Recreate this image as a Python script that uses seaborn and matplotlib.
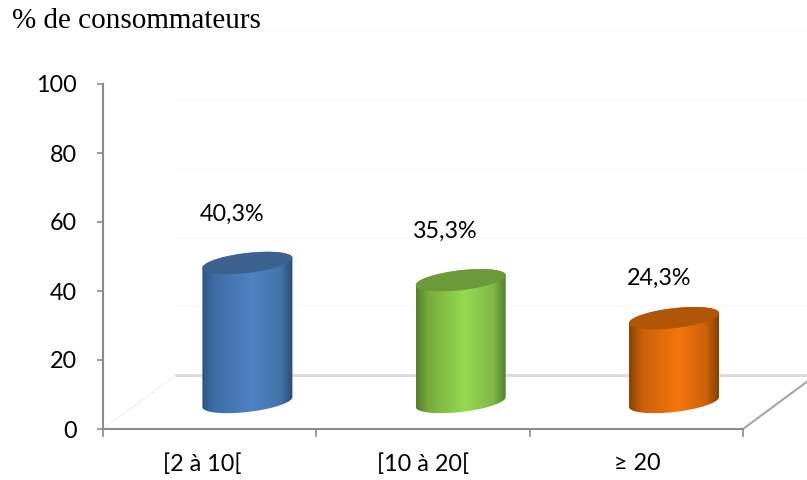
import numpy as np
import pandas as pd
import matplotlib
matplotlib.use("Agg")
import matplotlib.pyplot as plt
from matplotlib.colors import LinearSegmentedColormap
from matplotlib.patches import PathPatch, Polygon
from matplotlib.path import Path
import seaborn as sns

# Chart values
categories = ["[2 à 10[", "[10 à 20[", "≥ 20"]
shares = [40.3, 35.3, 24.3]
value_labels = ["40,3%", "35,3%", "24,3%"]
yticks = [0, 20, 40, 60, 80, 100]

# Cylinder shading: left edge, mid tones, highlight, right edge, and the top cap
ramps = [
    ["#2c5587", "#3f6ea6", "#4f82c2", "#4474ad", "#2b4a74"],
    ["#557f2b", "#78ad3d", "#95da50", "#7fb944", "#56802c"],
    ["#8a4000", "#c9600a", "#f6750c", "#cb620a", "#854000"],
]
caps = ["#3c638f", "#6d9a38", "#b15506"]

W, H = 807, 480
LEFT, RIGHT, BOTTOM, TOP = 103, 743, 429, 84

sns.set_theme(style="ticks")
plt.rcParams["font.family"] = ["Lato", "DejaVu Sans"]

fig = plt.figure(figsize=(W / 100, H / 100), dpi=100, facecolor="white")
ax = fig.add_axes([LEFT / W, 1 - BOTTOM / H, (RIGHT - LEFT) / W, (BOTTOM - TOP) / H])

frame = pd.DataFrame({"classe": categories, "part": shares})

# 3D perspective shift of the floor and of the bars standing on it
px_x = (RIGHT - LEFT) / 3
px_y = (BOTTOM - TOP) / 100
floor_dx, floor_dy = 73 / px_x, 54 / px_y
bar_dx, bar_lift = 37.7 / px_x, 27 / px_y

sns.barplot(data=frame, x="classe", y="part", width=90 / px_x, bottom=bar_lift,
            color="white", linewidth=0, ax=ax, zorder=3)
ax.set_xlim(-0.5, 2.5)
ax.set_ylim(0, 100)

# Floor and back wall
axis_grey = "#8c8c8c"
x0, x1 = -0.5, 2.5
for v in yticks[1:]:
    ax.plot([x0 + floor_dx, x1 + floor_dx], [v + floor_dy] * 2, color="#fbfbfb", lw=1, clip_on=False, zorder=1)
ax.plot([x0, x0 + floor_dx], [0, floor_dy], color="#e4e4e4", lw=1, ls=(0, (1, 1)), clip_on=False, zorder=1)
ax.plot([x0 + floor_dx, x1 + floor_dx], [floor_dy] * 2, color="#dcdcdc", lw=2.2, clip_on=False, zorder=1)
ax.plot([x1, x1 + floor_dx], [0, floor_dy], color="#a6a6a6", lw=1.5, clip_on=False, zorder=1)

# Turn each flat bar into a shaded cylinder
t_up = np.linspace(0, np.pi, 60)
t_low = np.linspace(np.pi, 2 * np.pi, 60)


def rim(cx, cy, half_w, t):
    """Sheared ellipse: the left end sits lower than the right end."""
    return np.column_stack((cx + half_w * np.cos(t),
                            cy + (5 * np.cos(t) + 10 * np.sin(t)) / px_y))


for patch, ramp, cap, label in zip(ax.patches, ramps, caps, value_labels):
    patch.set_x(patch.get_x() + bar_dx)
    patch.set_visible(False)
    xl, w = patch.get_x(), patch.get_width()
    cx, half_w = xl + w / 2, w / 2
    base, top = patch.get_y(), patch.get_y() + patch.get_height()

    outline = np.vstack((rim(cx, top, half_w, t_up), rim(cx, base, half_w, t_low)))
    clip = PathPatch(Path(outline, closed=False), transform=ax.transData, fc="none", ec="none")
    ax.add_patch(clip)

    cmap = LinearSegmentedColormap.from_list("shade", list(zip([0, 0.14, 0.55, 0.86, 1], ramp)))
    img = ax.imshow(np.linspace(0, 1, 256)[None, :], cmap=cmap, aspect="auto", zorder=3,
                    extent=(xl, xl + w, base - 5, top + 5), interpolation="bilinear")
    img.set_clip_path(clip)

    ax.add_patch(Polygon(np.vstack((rim(cx, top, half_w, t_up), rim(cx, top, half_w, t_low))),
                         closed=True, fc=cap, ec="none", zorder=4))

ax.set_xlim(-0.5, 2.5)
ax.set_ylim(0, 100)

# Value labels sit above the caps
label_lift = [49, 49, 40]
for patch, label, lift in zip(ax.patches, value_labels, label_lift):
    ax.annotate(label, (patch.get_x() + patch.get_width() / 2, patch.get_y() + patch.get_height()),
                xytext=(-15 * 0.72, lift * 0.72), textcoords="offset points",
                ha="center", va="center", fontsize=16.8, color="black", zorder=5)

# Axes
for side in ("top", "right"):
    ax.spines[side].set_visible(False)
for side in ("left", "bottom"):
    ax.spines[side].set_color(axis_grey)
    ax.spines[side].set_linewidth(1.5)
ax.set_xlabel("")
ax.set_ylabel("")
ax.set_yticks(yticks)
ax.set_xticks([-0.5, 0.5, 1.5, 2.5], labels=[""] * 4)
ax.tick_params(axis="y", length=4.5, width=1.2, color=axis_grey, labelsize=16.8, labelcolor="black", pad=14)
ax.tick_params(axis="x", length=6, width=1.2, color=axis_grey)
for i, (name, shift) in enumerate(zip(categories, (-7, 0, 1))):
    ax.annotate(name, (i, 0), xytext=(shift * 0.72, -35 * 0.72), textcoords="offset points",
                ha="center", va="center", fontsize=16.8, color="black", annotation_clip=False)

fig.text(12 / W, 1 - 21 / H, "% de consommateurs", family="Liberation Serif",
         fontsize=21, color="black", ha="left", va="center")

fig.savefig("out.png", dpi=100)
